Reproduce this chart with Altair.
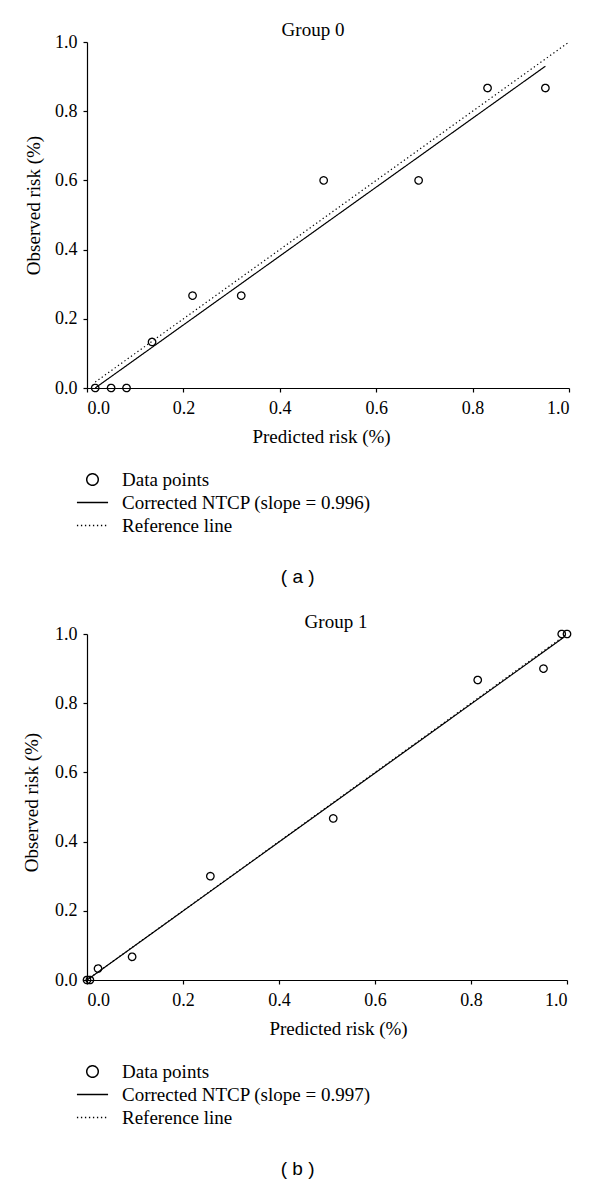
import altair as alt
import pandas as pd

SERIF = "Liberation Serif"
SANS = "Liberation Sans"

TICKS = [0.0, 0.2, 0.4, 0.6, 0.8, 1.0]

# Group 0
g0_pred = [0.017, 0.050, 0.082, 0.135, 0.219, 0.320, 0.491, 0.688, 0.831, 0.951]
g0_obs = [0.0, 0.0, 0.0, 0.133, 0.267, 0.267, 0.600, 0.600, 0.867, 0.867]
g0_fit_x = [0.017, 0.951]
g0_fit_y = [0.0, 0.930]
g0_ref_x = [0.017, 1.0]
g0_label = "Corrected NTCP (slope = 0.996)"

# Group 1
g1_pred = [0.0, 0.006, 0.023, 0.094, 0.257, 0.513, 0.814, 0.951, 0.989, 1.0]
g1_obs = [0.0, 0.0, 0.033, 0.067, 0.300, 0.467, 0.867, 0.900, 1.0, 1.0]
g1_fit_x = [0.0, 0.992]
g1_fit_y = [0.0, 0.989]
g1_ref_x = [0.0, 1.0]
g1_label = "Corrected NTCP (slope = 0.997)"

LINE_SYMBOL = "M-2.7,0H2.7"


def panel(title, title_dx, width, xtitle_x, ytitle_x, ytitle_y,
          pred, obs, fit_x, fit_y, ref_x, fit_label):
    pts = pd.DataFrame({"pred": pred, "obs": obs, "series": ["Data points"] * len(pred)})
    lines = pd.DataFrame({
        "pred": fit_x + ref_x,
        "obs": fit_y + ref_x,
        "series": [fit_label] * len(fit_x) + ["Reference line"] * len(ref_x),
    })
    domain = ["Data points", fit_label, "Reference line"]
    xs = alt.Scale(domain=[0, 1], nice=False, zero=False)
    ys = alt.Scale(domain=[0, 1], nice=False, zero=False)
    xax = alt.Axis(values=TICKS, format=".1f", title="Predicted risk (%)",
                   titleX=xtitle_x, titleY=54, titleBaseline="alphabetic",
                   titleAlign="center")
    yax = alt.Axis(values=TICKS, format=".1f", title="Observed risk (%)",
                   titleX=ytitle_x, titleY=ytitle_y, titleBaseline="alphabetic",
                   titleAlign="center", titleAngle=270)
    leg = alt.Legend(orient="none", legendX=-4, legendY=428, title=None,
                     symbolSize=133, symbolStrokeWidth=1.5, symbolStrokeColor="black",
                     symbolFillColor="transparent", labelOffset=20, rowPadding=3, padding=0)
    dash_scale = alt.Scale(domain=domain, range=[[1, 0], [1, 0], [1.3, 2.7]])
    shape_scale = alt.Scale(domain=domain, range=["circle", LINE_SYMBOL, LINE_SYMBOL])

    pts_layer = alt.Chart(pts).mark_point(filled=False, color="black", size=55,
                                          strokeWidth=1.3, opacity=1).encode(
        x=alt.X("pred:Q", scale=xs, axis=xax),
        y=alt.Y("obs:Q", scale=ys, axis=yax),
        shape=alt.Shape("series:N", scale=shape_scale, legend=leg),
        strokeDash=alt.StrokeDash("series:N", scale=dash_scale, legend=leg),
    )
    line_layer = alt.Chart(lines).mark_line(color="black", strokeWidth=1.2).encode(
        x=alt.X("pred:Q", scale=xs, axis=xax),
        y=alt.Y("obs:Q", scale=ys, axis=yax),
        strokeDash=alt.StrokeDash("series:N", scale=dash_scale, legend=leg),
    )
    return alt.layer(line_layer, pts_layer).properties(
        width=width, height=346,
        title=alt.TitleParams(title, anchor="middle", dx=title_dx, baseline="alphabetic",
                              offset=-22, font=SERIF, fontSize=19, fontWeight="normal",
                              color="black"),
    )


pa = panel("Group 0", -15, 482, 234, -48, 163,
           g0_pred, g0_obs, g0_fit_x, g0_fit_y, g0_ref_x, g0_label)
pb = panel("Group 1", 9, 480, 251, -50, 168,
           g1_pred, g1_obs, g1_fit_x, g1_fit_y, g1_ref_x, g1_label)

sub = dict(orient="bottom", font=SANS, fontSize=19, fontWeight="normal", color="black",
           anchor="middle", baseline="alphabetic")
ca = alt.vconcat(pa, title=alt.TitleParams("( a )", offset=47, **sub))
cb = alt.vconcat(pb, title=alt.TitleParams("( b )", offset=47, **sub))

chart = alt.vconcat(ca, cb, spacing=26).resolve_scale(
    shape="independent", strokeDash="independent", x="independent", y="independent"
).resolve_legend(shape="independent", strokeDash="independent").properties(
    padding={"left": 14, "top": 13, "right": 0, "bottom": 0},
    background="white",
).configure_view(stroke=None).configure_axis(
    labelFont=SERIF, labelFontSize=18, labelColor="black",
    titleFont=SERIF, titleFontSize=19, titleColor="black", titleFontWeight="normal",
    domainColor="black", domainWidth=1.2, tickColor="black", tickSize=4, tickWidth=1.2,
    grid=False, labelPadding=6,
).configure_axisX(labelPadding=7).configure_legend(
    labelFont=SERIF, labelFontSize=19, labelColor="black", labelLimit=400,
)

chart.save("out.html", embed_options={"renderer": "svg", "actions": False})
